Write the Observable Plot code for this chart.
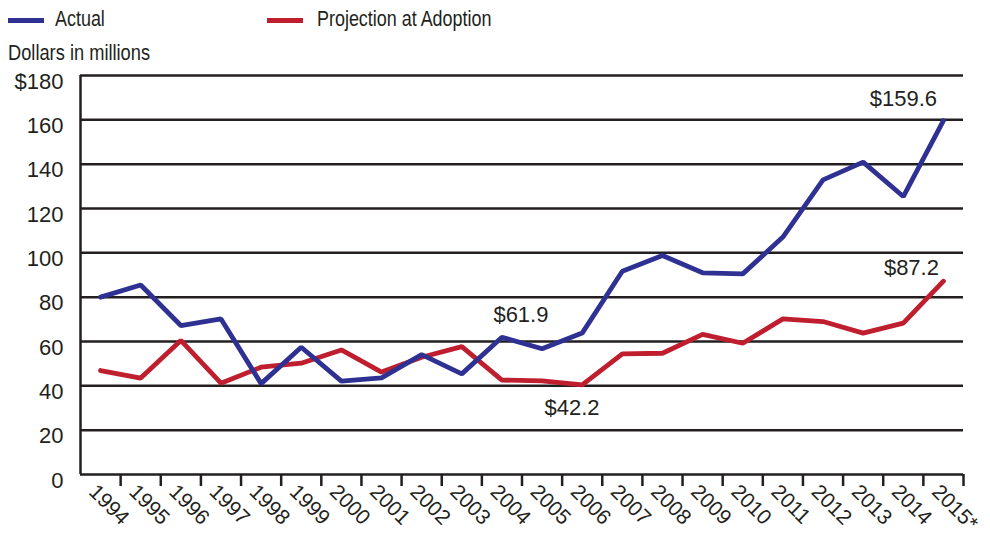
<!DOCTYPE html>
<html>
<head>
<meta charset="utf-8">
<script src="https://cdn.jsdelivr.net/npm/d3@7"></script>
<script src="https://cdn.jsdelivr.net/npm/@observablehq/plot@0.6"></script>
<style>
  html, body { margin: 0; padding: 0; background: #fff; }
  #wrap { width: 990px; height: 535px; position: relative; overflow: hidden; }
  #head { position: relative; height: 62px; font-family: "Liberation Sans", Arial, sans-serif; font-size: 22px; color: #231f20; }
  .sw { position: absolute; top: 18px; width: 36px; height: 5px; }
  .lt { position: absolute; top: 6px; line-height: 26px; white-space: nowrap; transform: scaleX(0.815); transform-origin: 0 0; }
  #ylab { position: absolute; left: 8px; top: 40px; line-height: 26px; white-space: nowrap; transform: scaleX(0.83); transform-origin: 0 0; }
  svg { display: block; }
</style>
</head>
<body>
<div id="wrap">
  <div id="head">
    <div class="sw" style="left:8px;background:#2e3192"></div>
    <div class="lt" style="left:55px">Actual</div>
    <div class="sw" style="left:267px;background:#be1e2d"></div>
    <div class="lt" style="left:317px">Projection at Adoption</div>
    <div id="ylab">Dollars in millions</div>
  </div>
  <div id="chart"></div>
</div>
<script>
const years = ["1994","1995","1996","1997","1998","1999","2000","2001","2002","2003","2004","2005","2006","2007","2008","2009","2010","2011","2012","2013","2014","2015*"];
const actual = [80.0, 85.5, 67.2, 70.2, 41.0, 57.4, 42.1, 43.6, 54.1, 45.4, 61.9, 56.7, 63.8, 91.7, 98.8, 91.0, 90.5, 107.1, 132.9, 140.9, 125.4, 159.6];
const projection = [46.9, 43.5, 60.5, 41.2, 48.4, 50.2, 56.2, 46.2, 52.9, 57.7, 42.6, 42.2, 40.4, 54.4, 54.7, 63.2, 59.2, 70.2, 69.0, 63.8, 68.3, 87.2];
const yTicks = [0, 20, 40, 60, 80, 100, 120, 140, 160, 180];
const yTickLabels = ["0", "20", "40", "60", "80", "100", "120", "140", "160", "$180"];
const annotations = [
  {series: "Actual", year: "2015*", value: 159.6, label: "$159.6"},
  {series: "Projection", year: "2015*", value: 87.2, label: "$87.2"},
  {series: "Actual", year: "2004", value: 61.9, label: "$61.9"},
  {series: "Projection", year: "2005", value: 42.2, label: "$42.2"}
];

const ink = "#231f20";
const actualData = actual.map((v, i) => ({i, v}));
const projData = projection.map((v, i) => ({i, v}));
const idx = y => years.indexOf(y);
const ann = annotations.map(a => ({...a, i: idx(a.year)}));
const bandEdges = years.map((_, i) => i + 0.5);

const labelStyle = {fill: ink, fontSize: 22, fontFamily: "Liberation Sans, Arial, sans-serif"};

const chart = Plot.plot({
  width: 990,
  height: 473,
  marginTop: 13,
  marginBottom: 61,
  marginLeft: 80,
  marginRight: 27,
  style: {fontFamily: "Liberation Sans, Arial, sans-serif", fontSize: "21px", color: ink, background: "#fff", overflow: "visible"},
  x: {domain: [-0.5, years.length - 0.5], axis: null},
  y: {domain: [0, 180], axis: null},
  marks: [
    Plot.ruleY(yTicks, {stroke: ink, strokeWidth: 2.5}),
    Plot.ruleX([-0.5], {y1: 0, y2: 180, stroke: ink, strokeWidth: 2.5}),
    Plot.axisY({ticks: yTicks, tickSize: 0, tickPadding: 17, tickFormat: (d) => yTickLabels[yTicks.indexOf(d)], dy: 6, fill: ink, fontSize: 22, label: null}),
    Plot.axisX({ticks: bandEdges, tickSize: 12, tickFormat: () => "", stroke: ink, strokeWidth: 2.5, label: null}),
    Plot.axisX({ticks: years.map((_, i) => i), tickSize: 0, tickRotate: 45, tickFormat: (d) => years[d], fill: ink, fontSize: 21, label: null, dx: -8, dy: 2}),
    Plot.line(projData, {x: "i", y: "v", stroke: "#be1e2d", strokeWidth: 4.8, strokeLinejoin: "miter"}),
    Plot.line(actualData, {x: "i", y: "v", stroke: "#2e3192", strokeWidth: 4.8, strokeLinejoin: "miter"}),
    Plot.text(ann.filter(a => a.label === "$159.6"), {x: "i", y: "value", text: "label", textAnchor: "middle", lineAnchor: "middle", dx: -40, dy: -22, ...labelStyle}),
    Plot.text(ann.filter(a => a.label === "$87.2"), {x: "i", y: "value", text: "label", textAnchor: "middle", lineAnchor: "middle", dx: -32, dy: -13, ...labelStyle}),
    Plot.text(ann.filter(a => a.label === "$61.9"), {x: "i", y: "value", text: "label", textAnchor: "middle", lineAnchor: "middle", dx: 19, dy: -22, ...labelStyle}),
    Plot.text(ann.filter(a => a.label === "$42.2"), {x: "i", y: "value", text: "label", textAnchor: "middle", lineAnchor: "middle", dx: 30, dy: 27, ...labelStyle})
  ]
});
document.getElementById("chart").appendChild(chart);
</script>
</body>
</html>
